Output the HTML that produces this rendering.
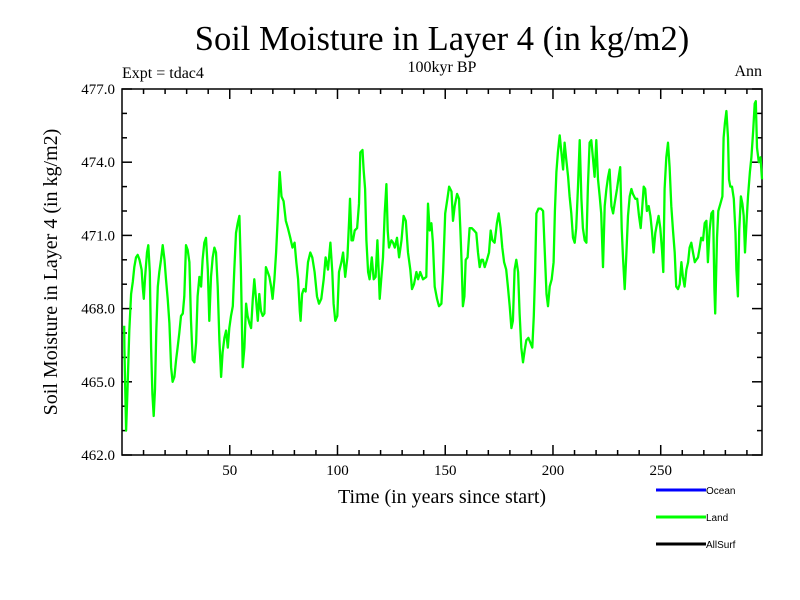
<!DOCTYPE html>
<html><head><meta charset="utf-8"><style>
body{margin:0;background:#fff;}
svg{display:block;}
.serif{font-family:"Liberation Serif",serif;}
.sans{font-family:"Liberation Sans",sans-serif;}
</style></head><body>
<svg id="chart" width="800" height="600" xmlns="http://www.w3.org/2000/svg">
<rect width="800" height="600" fill="#fff"/>
<text class="serif" x="442" y="50" font-size="34.5" text-anchor="middle">Soil Moisture in Layer 4 (in kg/m2)</text>
<text class="serif" x="122" y="78" font-size="16">Expt = tdac4</text>
<text class="serif" x="442" y="72" font-size="16" text-anchor="middle">100kyr BP</text>
<text class="serif" x="762" y="76" font-size="16" text-anchor="end">Ann</text>
<text class="serif" x="0" y="0" font-size="20" text-anchor="middle" transform="translate(57,272) rotate(-90)">Soil Moisture in Layer 4 (in kg/m2)</text>
<text class="serif" x="442" y="503" font-size="20" text-anchor="middle">Time (in years since start)</text>
<g id="axes"></g>
<g id="series"></g>
<g>
<line x1="656" y1="490" x2="706" y2="490" stroke="#0000ff" stroke-width="3"/>
<text class="sans" x="706" y="494" font-size="10">Ocean</text>
<line x1="656" y1="517" x2="706" y2="517" stroke="#00ff00" stroke-width="3"/>
<text class="sans" x="706" y="521" font-size="10">Land</text>
<line x1="656" y1="544" x2="706" y2="544" stroke="#000" stroke-width="3"/>
<text class="sans" x="706" y="548" font-size="10">AllSurf</text>
</g>
</svg>
<script>
const years = [1,1.1,1.9,2.6,3.4,4.2,5.0,5.7,6.5,7.3,8.1,9.1,9.6,10.1,10.7,11.6,12.2,12.9,13.5,14.1,14.7,15.3,15.9,16.6,17.3,18.1,18.9,19.7,20.4,21.2,22.0,22.8,23.5,24.3,25.1,25.8,26.6,27.4,28.2,28.9,29.7,30.5,31.3,32.0,32.8,33.6,34.4,35.1,35.9,36.7,37.4,38.2,39.0,39.8,40.5,41.3,42.1,42.9,43.6,44.4,45.2,46.0,46.7,47.5,48.3,49.1,49.8,50.6,51.4,52.1,52.9,53.7,54.5,55.2,56.0,56.8,57.6,58.3,59.1,59.9,60.7,61.4,62.2,63.0,63.7,64.5,65.3,66.1,66.8,67.6,68.4,69.2,69.9,70.7,71.5,72.2,73.2,74.0,75.0,76.0,77.0,78.1,79.1,80.1,80.9,81.7,82.5,82.9,83.6,84.3,85.2,86.3,87.4,88.3,89.4,90.5,91.4,92.5,93.6,94.5,95.6,96.7,97.6,98.2,99.0,99.9,100.7,101.8,102.6,103.6,104.6,105.4,105.8,106.5,107.2,108.0,109.1,110.0,110.6,111.6,112.1,112.8,113.4,114.2,114.9,115.9,116.8,117.7,118.5,119.1,119.6,120.4,121.1,121.9,122.7,123.3,123.9,125.0,125.8,126.6,127.6,128.6,129.7,130.7,131.7,132.7,133.8,134.6,135.5,136.6,137.4,138.4,139.7,141.2,142.0,142.8,143.6,144.3,145.1,146.2,147.1,148.2,149.0,150.0,151.0,151.8,152.9,153.6,154.4,155.5,156.4,157.0,157.6,158.2,158.9,159.5,160.4,161.3,162.3,163.4,164.4,165.2,166.0,166.8,167.5,168.3,169.4,170.3,171.1,171.9,172.9,174.0,174.8,175.7,176.5,177.3,178.3,179.1,179.9,180.7,181.4,182.2,183.0,183.8,184.5,185.3,186.1,186.9,187.6,188.6,189.5,190.4,191.1,191.7,192.3,193.3,194.4,195.4,196.2,197.0,197.7,198.5,199.4,200.3,200.9,201.6,202.3,203.1,203.9,204.7,205.4,206.2,207.0,207.7,208.5,209.3,210.1,210.8,211.6,212.4,213.2,213.9,214.7,215.5,216.2,217.0,217.8,218.6,219.3,220.1,220.9,221.7,222.4,223.2,224.0,224.8,225.6,226.3,227.1,227.9,228.6,229.7,230.5,231.2,231.9,232.5,233.3,234.0,234.8,235.6,236.4,237.1,238.2,239.1,239.9,240.7,241.3,242.1,242.8,243.6,244.4,245.2,245.9,246.7,247.5,248.3,249.0,249.8,250.6,251.2,251.8,252.6,253.4,254.1,254.9,255.7,256.5,257.2,258.0,258.8,259.6,260.3,261.1,261.9,262.7,263.4,264.2,265.0,265.8,266.5,267.3,268.1,268.8,269.6,270.4,271.2,271.9,272.7,273.5,274.3,274.9,275.3,276.1,276.7,277.7,278.6,279.2,279.8,280.5,281.2,281.7,282.3,283.1,283.9,284.7,285.1,285.8,286.4,287.2,287.9,288.5,289.1,289.8,290.5,291.4,292.1,292.9,293.6,294.1,294.7,295.5,296.3,297.0];
const landValues = [467.3,466.4,463.0,464.8,467.1,468.6,469.1,469.7,470.1,470.2,470.0,469.6,468.9,468.4,469.3,470.3,470.6,469.5,466.4,464.5,463.6,464.7,467.1,468.9,469.5,470.0,470.6,470.0,469.2,468.4,467.4,465.6,465.0,465.2,465.9,466.4,467.0,467.7,467.8,468.5,470.6,470.4,469.9,467.5,465.9,465.8,466.6,468.5,469.3,468.9,470.0,470.7,470.9,469.6,467.5,469.3,470.1,470.5,470.3,468.9,466.7,465.2,466.2,466.8,467.1,466.4,467.2,467.7,468.1,469.6,471.1,471.5,471.8,469.6,465.6,466.4,468.2,467.7,467.4,467.2,468.4,469.2,468.4,467.5,468.6,467.9,467.7,467.8,469.7,469.5,469.3,468.9,468.4,469.2,470.3,471.6,473.6,472.6,472.4,471.6,471.3,470.9,470.5,470.7,469.9,469.2,467.9,467.5,468.6,468.8,468.7,469.9,470.3,470.1,469.5,468.5,468.2,468.4,469.2,470.1,469.6,470.7,469.5,468.2,467.5,467.7,469.5,469.9,470.3,469.3,470.1,471.6,472.5,470.8,470.8,471.2,471.3,472.3,474.4,474.5,473.7,472.9,470.8,469.5,469.2,470.1,469.2,469.3,470.8,469.6,468.4,469.3,470.1,471.9,473.1,471.2,470.5,470.8,470.7,470.5,470.9,470.1,470.8,471.8,471.6,470.3,469.6,468.8,469.0,469.5,469.2,469.5,469.2,469.3,472.3,471.2,471.5,470.7,468.9,468.4,468.1,468.2,469.5,471.9,472.5,473.0,472.8,471.6,472.2,472.7,472.5,471.3,469.9,468.1,468.5,470.0,470.1,471.3,471.3,471.2,471.1,470.3,469.7,470.0,470.0,469.7,470.0,470.3,471.2,470.8,470.7,471.5,471.9,471.3,470.5,469.9,469.6,468.9,468.1,467.2,467.5,469.6,470.0,469.5,467.8,466.4,465.8,466.3,466.7,466.8,466.6,466.4,467.7,469.5,471.9,472.1,472.1,472.0,470.3,468.6,468.1,468.9,469.2,469.9,472.0,473.6,474.4,475.1,474.4,473.7,474.8,474.1,473.4,472.6,471.9,470.9,470.7,471.3,473.0,474.9,472.5,471.3,470.8,470.7,473.0,474.8,474.9,474.1,473.4,474.9,473.3,472.6,471.9,469.7,472.2,472.9,473.4,473.7,472.2,471.9,472.3,472.9,473.4,473.8,471.3,470.1,468.8,470.1,471.8,472.6,472.9,472.7,472.5,472.5,471.8,471.3,472.0,473.0,472.9,472.0,472.2,471.8,471.2,470.3,471.1,471.5,471.8,471.3,470.4,469.5,472.9,474.2,474.8,473.8,472.2,471.2,470.3,468.9,468.8,469.0,469.9,469.3,468.9,469.6,469.9,470.5,470.7,470.3,469.9,470.0,470.1,470.5,470.9,470.8,471.5,471.6,469.9,471.2,471.9,472.0,468.8,467.8,470.9,472.0,472.3,472.6,475.0,475.6,476.1,475.0,473.3,473.0,473.0,472.5,471.1,469.6,468.5,471.2,472.6,472.3,471.8,470.3,471.5,472.6,473.6,474.2,475.3,476.4,476.5,474.6,474.0,474.2,473.3];
const yTicks = [462,465,468,471,474,477];
const yTickLabels = ["462.0","465.0","468.0","471.0","474.0","477.0"];
const xTicks = [50,100,150,200,250];
const xTickLabels = ["50","100","150","200","250"];

const NS = "http://www.w3.org/2000/svg";
const L = 122, R = 762, T = 89, B = 455;
const xMin = 0, xMax = 297, yMin = 462, yMax = 477;
function xs(v){ return L + (v - xMin) / (xMax - xMin) * (R - L); }
function ys(v){ return B - (v - yMin) / (yMax - yMin) * (B - T); }
function mk(tag, attrs, parent){ const e = document.createElementNS(NS, tag); for (const k in attrs) e.setAttribute(k, attrs[k]); parent.appendChild(e); return e; }

const axes = document.getElementById('axes');
const frame = mk('rect', {x:L, y:T, width:R-L, height:B-T, fill:'none', stroke:'#000', 'stroke-width':1.5}, axes);



for (let v = yMin; v <= yMax; v += 1) {
  const major = yTicks.includes(v);
  const len = major ? 10 : 5;
  const y = ys(v);
  const t1 = mk('line', {x1:L, y1:y, x2:L+len, y2:y, stroke:'#000', 'stroke-width':1.5}, axes);
  
  
  const t2 = mk('line', {x1:R, y1:y, x2:R-len, y2:y, stroke:'#000', 'stroke-width':1.5}, axes);
  
  
}
yTicks.forEach((v, i) => {
  const t = mk('text', {x:L-7, y:ys(v)+5, 'font-size':15, 'text-anchor':'end', class:'serif'}, axes);
  t.textContent = yTickLabels[i];
  
  
});
for (let v = 10; v < xMax; v += 10) {
  const major = xTicks.includes(v);
  const len = major ? 10 : 5;
  const x = xs(v);
  const t1 = mk('line', {x1:x, y1:B, x2:x, y2:B-len, stroke:'#000', 'stroke-width':1.5}, axes);
  
  
  const t2 = mk('line', {x1:x, y1:T, x2:x, y2:T+len, stroke:'#000', 'stroke-width':1.5}, axes);
  
  
}
xTicks.forEach((v, i) => {
  const t = mk('text', {x:xs(v), y:B+20, 'font-size':15, 'text-anchor':'middle', class:'serif'}, axes);
  t.textContent = xTickLabels[i];
  
  
});

const series = document.getElementById('series');
const d = years.map((yr, i) => (i ? 'L' : 'M') + xs(yr).toFixed(1) + ',' + ys(landValues[i]).toFixed(1)).join(' ');
const line = mk('path', {d:d, fill:'none', stroke:'#00ff00', 'stroke-width':2.3, 'stroke-linejoin':'round'}, series);


</script>
</body></html>
